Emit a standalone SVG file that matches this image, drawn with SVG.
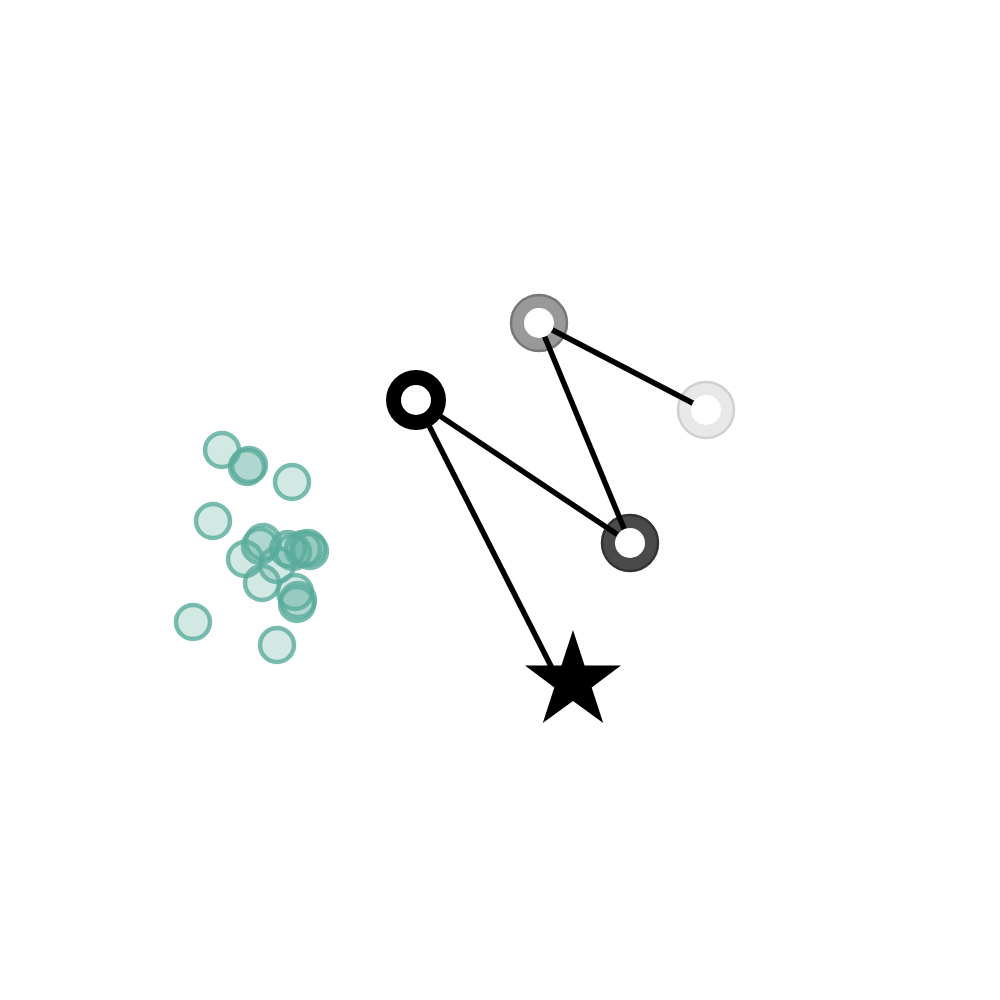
<svg xmlns="http://www.w3.org/2000/svg" width="1000" height="1000" viewBox="0 0 1000 1000">
<style>
.pt{fill:#5aab9c;fill-opacity:0.28;stroke:#5aab9c;stroke-opacity:0.8;stroke-width:4.5}
.edge{stroke:#000;stroke-width:5.5;fill:none}
.hole{fill:#fff}
</style>
<rect width="1000" height="1000" fill="#fff"/>
<g id="scatter">
<circle class="pt" cx="222" cy="450" r="17"/>
<circle class="pt" cx="247" cy="467" r="17"/>
<circle class="pt" cx="249" cy="465" r="17"/>
<circle class="pt" cx="292" cy="482" r="17"/>
<circle class="pt" cx="213" cy="521" r="17"/>
<circle class="pt" cx="193" cy="622" r="17"/>
<circle class="pt" cx="277" cy="645" r="17"/>
<circle class="pt" cx="263" cy="542" r="17"/>
<circle class="pt" cx="260" cy="546" r="17"/>
<circle class="pt" cx="245" cy="559" r="17"/>
<circle class="pt" cx="262" cy="583" r="17"/>
<circle class="pt" cx="277" cy="565" r="17"/>
<circle class="pt" cx="288" cy="549" r="17"/>
<circle class="pt" cx="293" cy="552" r="17"/>
<circle class="pt" cx="303" cy="549" r="17"/>
<circle class="pt" cx="308" cy="548" r="17"/>
<circle class="pt" cx="310" cy="551" r="17"/>
<circle class="pt" cx="295" cy="592" r="17"/>
<circle class="pt" cx="298" cy="600" r="17"/>
<circle class="pt" cx="297" cy="604" r="17"/>
</g>
<g id="node-black"><circle cx="416" cy="400" r="30" fill="#000"/></g>
<g id="node-gray"><circle cx="539" cy="323" r="28" fill="#999" stroke="#777" stroke-width="2.5"/></g>
<g id="node-dark"><circle cx="630" cy="543" r="28" fill="#4a4a4a" stroke="#333" stroke-width="2.5"/></g>
<g id="node-light"><circle cx="706" cy="410" r="28" fill="#e8e8e8" stroke="#d0d0d0" stroke-width="2.5"/></g>
<g id="connectors">
<line class="edge" x1="416" y1="400" x2="630" y2="543"/>
<line class="edge" x1="539" y1="323" x2="630" y2="543"/>
<line class="edge" x1="539" y1="323" x2="706" y2="410"/>
<line class="edge" x1="416" y1="400" x2="556" y2="676"/>
</g>
<g id="holes">
<circle class="hole" cx="416" cy="400" r="15"/>
<circle class="hole" cx="539" cy="323" r="15"/>
<circle class="hole" cx="630" cy="543" r="15"/>
<circle class="hole" cx="706" cy="410" r="15"/>
</g>
<g id="node-star">
<polygon fill="#000" points="573,630 584.6,665.5 621,665.5 591.7,687.5 603.2,723 573,701 542.8,723 554.3,687.5 525,665.5 561.4,665.5"/>
</g>
</svg>
